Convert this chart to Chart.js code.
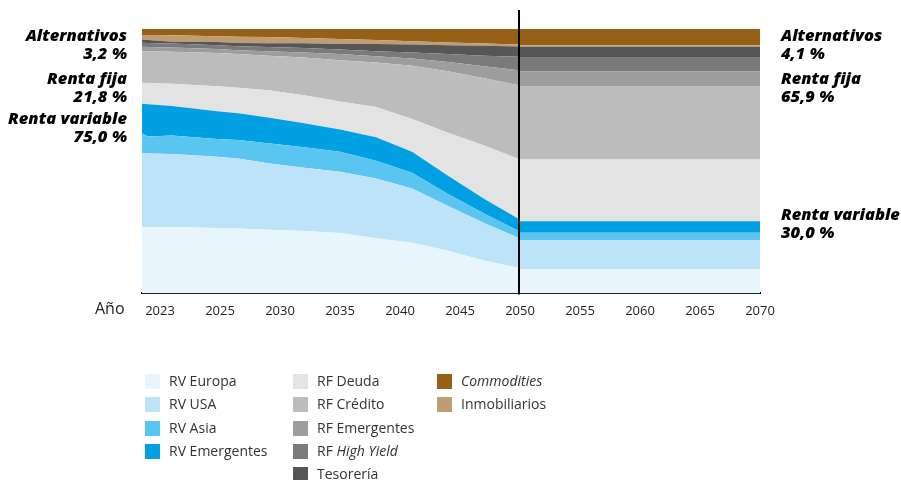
<!DOCTYPE html>
<html>
<head>
<meta charset="utf-8">
<script src="https://cdn.jsdelivr.net/npm/chart.js@4/dist/chart.umd.min.js"></script>
<style>
  html, body { margin: 0; padding: 0; background: #fff; }
  #wrap { position: relative; width: 901px; height: 480px; overflow: hidden; font-family: "Open Sans", sans-serif; }
  #c { position: absolute; left: 0; top: 0; }
  .note { position: absolute; font-weight: 800; font-style: italic; font-size: 16.5px; line-height: 17.5px; color: #000; white-space: nowrap; }
  .note.left { text-align: right; right: 774px; }
  .note.right { text-align: left; left: 781px; }
  #ano { position: absolute; left: 95px; top: 297px; font-size: 16px; color: #222; }
  .leg { position: absolute; font-size: 14px; color: #333; white-space: nowrap; line-height: 16px; }
  .leg .box { position: absolute; left: 0; top: 0; width: 15px; height: 15px; }
  .leg .txt { position: absolute; left: 0; top: -1px; }
</style>
</head>
<body>
<div id="wrap">
  <canvas id="c" width="901" height="480"></canvas>
  <div id="ano">Año</div>
</div>
<script>
// ---- data ----
const years = [2022.4, 2022.6, 2023.4, 2024.9, 2026.5, 2029, 2032, 2035, 2038, 2041, 2044, 2047, 2049.9, 2050, 2070];
const tickYears = [2023, 2025, 2030, 2035, 2040, 2045, 2050, 2055, 2060, 2065, 2070];
const tickLabels = ['2023', '2025', '2030', '2035', '2040', '2045', '2050', '2055', '2060', '2065', '2070'];

const rvEuropa      = [25.1, 25.1, 25.1, 24.7, 24.5, 24.1, 23.6, 22.8, 20.9, 19.2, 16.1, 12.4, 9.6, 9.2, 9.2];
const rvUSA         = [27.9, 27.8, 27.6, 27.0, 26.5, 25.1, 23.9, 23.2, 22.6, 20.5, 17.0, 14.2, 11.4, 11.0, 11.0];
const rvAsia        = [7.5, 6.4, 7.0, 6.7, 7.0, 7.6, 7.8, 7.6, 6.7, 5.9, 4.5, 3.6, 2.6, 2.7, 2.7];
const rvEmergentes  = [11.2, 12.2, 11.2, 10.5, 10.1, 9.7, 9.1, 8.4, 8.9, 8.0, 6.9, 5.6, 4.5, 4.4, 4.4];
const rfDeuda       = [8.0, 8.1, 8.4, 9.4, 9.7, 10.3, 10.5, 10.6, 11.4, 12.4, 16.3, 20.1, 22.7, 23.3, 23.3];
const rfCredito     = [11.9, 12.0, 12.1, 12.6, 12.7, 13.1, 14.3, 15.6, 16.8, 20.1, 23.2, 25.5, 27.9, 27.8, 27.8];
const rfEmergentes  = [1.7, 1.6, 1.6, 1.5, 1.5, 1.7, 1.9, 2.3, 2.4, 2.7, 3.5, 4.5, 5.7, 5.6, 5.6];
const rfHighYield   = [1.5, 1.5, 1.5, 1.5, 1.5, 1.6, 1.7, 1.7, 1.9, 2.3, 3.0, 4.0, 5.1, 5.1, 5.1];
const tesoreria     = [1.2, 1.1, 0.7, 1.2, 1.2, 1.4, 1.8, 2.1, 2.7, 3.0, 3.4, 3.8, 3.9, 4.2, 4.2];
const inmobiliarios = [1.7, 1.9, 2.4, 2.2, 2.4, 2.4, 2.0, 1.9, 1.5, 1.3, 1.0, 0.8, 0.7, 0.6, 0.6];
const commodities   = [2.3, 2.3, 2.4, 2.7, 2.9, 3.0, 3.4, 3.8, 4.2, 4.6, 5.1, 5.5, 5.9, 6.1, 6.1];

const splitYear = 2050;
const leftNotes  = [['Alternativos', '3,2 %'], ['Renta fija', '21,8 %'], ['Renta variable', '75,0 %']];
const rightNotes = [['Alternativos', '4,1 %'], ['Renta fija', '65,9 %'], ['Renta variable', '30,0 %']];

// ---- series definitions (draw order bottom -> top) ----
const series = [
  { label: 'RV Europa',     html: 'RV Europa',            data: rvEuropa,      color: '#e8f5fd' },
  { label: 'RV USA',        html: 'RV USA',               data: rvUSA,         color: '#bce3f8' },
  { label: 'RV Asia',       html: 'RV Asia',              data: rvAsia,        color: '#5bc5f2' },
  { label: 'RV Emergentes', html: 'RV Emergentes',        data: rvEmergentes,  color: '#00a0e2' },
  { label: 'RF Deuda',      html: 'RF Deuda',             data: rfDeuda,       color: '#e3e3e3' },
  { label: 'RF Crédito',    html: 'RF Crédito',           data: rfCredito,     color: '#bdbcbd' },
  { label: 'RF Emergentes', html: 'RF Emergentes',        data: rfEmergentes,  color: '#9d9d9d' },
  { label: 'RF High Yield', html: 'RF <i>High Yield</i>', data: rfHighYield,   color: '#7b7a7b' },
  { label: 'Tesorería',     html: 'Tesorería',            data: tesoreria,     color: '#575657' },
  { label: 'Inmobiliarios', html: 'Inmobiliarios',        data: inmobiliarios, color: '#c09c73' },
  { label: 'Commodities',   html: '<i>Commodities</i>',   data: commodities,   color: '#966116' }
];
const legendColumns = [
  ['RV Europa', 'RV USA', 'RV Asia', 'RV Emergentes'],
  ['RF Deuda', 'RF Crédito', 'RF Emergentes', 'RF High Yield', 'Tesorería'],
  ['Commodities', 'Inmobiliarios']
];

// map a year onto the evenly spaced tick axis
function toAxis(y) {
  const t = tickYears;
  if (y <= t[1]) return (y - t[0]) / (t[1] - t[0]);
  for (let i = 1; i < t.length - 1; i++) {
    if (y <= t[i + 1]) return i + (y - t[i]) / (t[i + 1] - t[i]);
  }
  const n = t.length - 1;
  return n + (y - t[n]) / (t[n] - t[n - 1]);
}

const datasets = series.map((s, i) => ({
  label: s.label,
  data: s.data.map((v, k) => ({ x: toAxis(years[k]), y: v })),
  backgroundColor: s.color,
  borderColor: s.color,
  borderWidth: 0,
  pointRadius: 0,
  tension: 0,
  fill: i === 0 ? 'origin' : '-1'
}));

const splitLine = {
  id: 'splitLine',
  afterDatasetsDraw(chart) {
    const ctx = chart.ctx;
    const x = Math.round(chart.scales.x.getPixelForValue(toAxis(splitYear))) - 1;
    ctx.save();
    ctx.strokeStyle = '#000';
    ctx.lineWidth = 2;
    ctx.beginPath();
    ctx.moveTo(x, 10);
    ctx.lineTo(x, chart.chartArea.bottom + 1);
    ctx.stroke();
    ctx.restore();
  }
};

new Chart(document.getElementById('c'), {
  type: 'line',
  data: { datasets },
  options: {
    responsive: false,
    animation: false,
    layout: { padding: { left: 142, right: 141, top: 29, bottom: 159 } },
    plugins: { legend: { display: false }, tooltip: { enabled: false } },
    scales: {
      x: {
        type: 'linear',
        min: toAxis(years[0]),
        max: toAxis(years[years.length - 1]),
        afterBuildTicks(scale) {
          scale.ticks = tickYears.map((y) => ({ value: toAxis(y) }));
        },
        ticks: {
          autoSkip: false,
          maxRotation: 0,
          padding: 2,
          color: '#222',
          font: { family: 'Open Sans', size: 13 },
          callback: (v, i) => tickLabels[i]
        },
        grid: { display: false },
        border: { display: true, color: '#000', width: 2 }
      },
      y: { display: false, stacked: true, min: 0, max: 100 }
    }
  },
  plugins: [splitLine]
});

// ---- notes ----
const wrap = document.getElementById('wrap');
const leftTops = [26, 69, 109];
const rightTops = [26, 69, 205];
leftNotes.forEach((n, i) => {
  const d = document.createElement('div');
  d.className = 'note left';
  d.style.top = leftTops[i] + 'px';
  d.innerHTML = n[0] + '<br>' + n[1];
  wrap.appendChild(d);
});
rightNotes.forEach((n, i) => {
  const d = document.createElement('div');
  d.className = 'note right';
  d.style.top = rightTops[i] + 'px';
  d.innerHTML = n[0] + '<br>' + n[1];
  wrap.appendChild(d);
});

// ---- legend ----
const colX = [145, 293, 437];
const textOff = 24;
legendColumns.forEach((col, ci) => {
  col.forEach((name, ri) => {
    const s = series.find(q => q.label === name);
    const d = document.createElement('div');
    d.className = 'leg';
    d.style.left = colX[ci] + 'px';
    d.style.top = (374 + ri * 23.3) + 'px';
    d.innerHTML = '<span class="box" style="background:' + s.color + '"></span><span class="txt" style="left:' + textOff + 'px">' + s.html + '</span>';
    wrap.appendChild(d);
  });
});
</script>
</body>
</html>
